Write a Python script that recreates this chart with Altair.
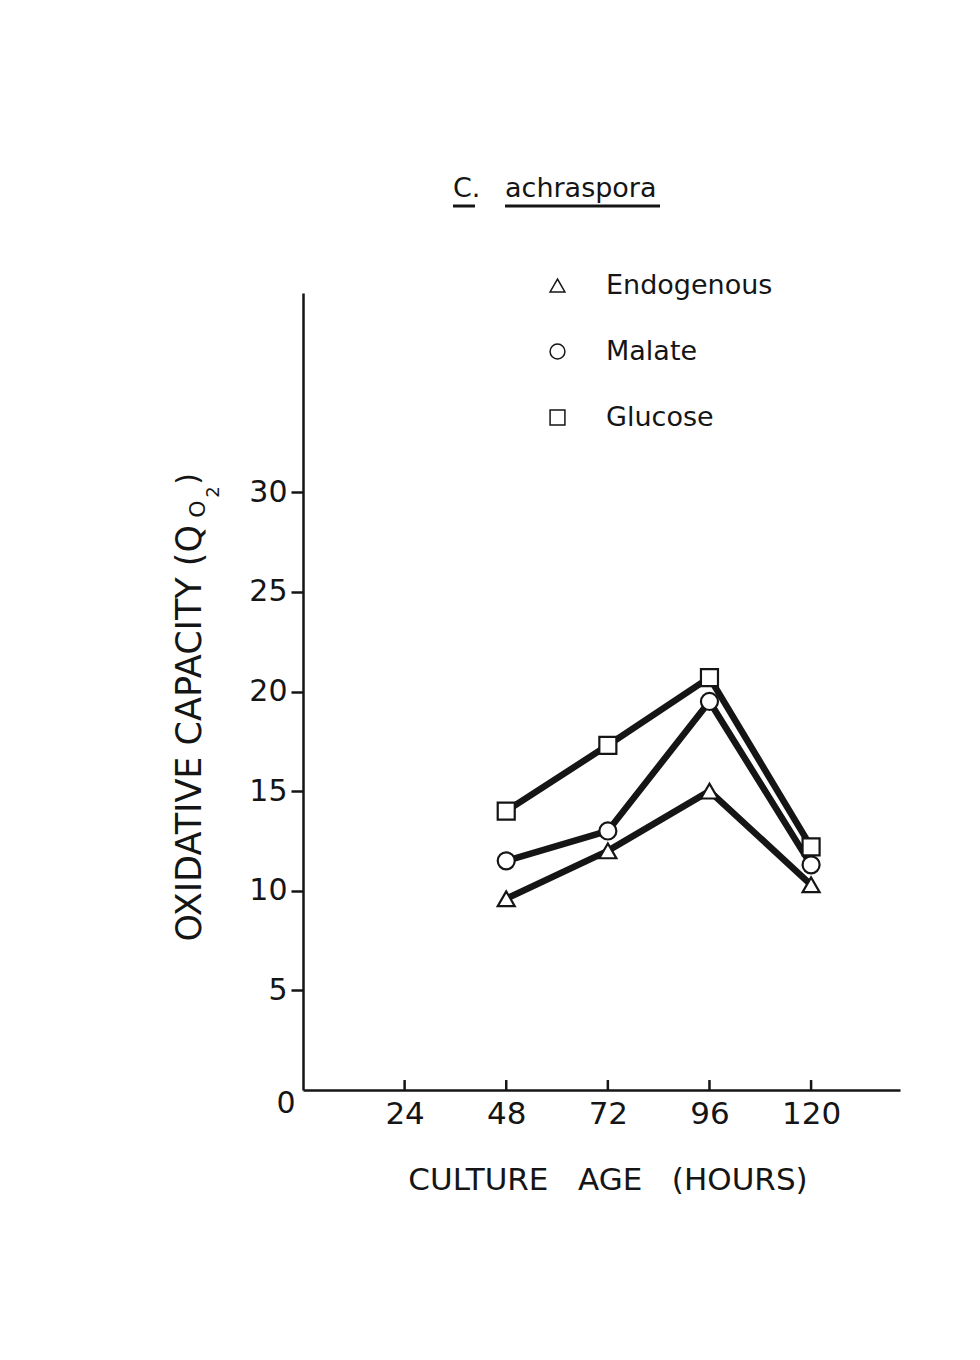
import altair as alt
import pandas as pd

# Oxidative capacity (QO2) of C. achraspora cultures by age
hours = [48, 72, 96, 120]
endogenous = [9.6, 12.0, 15.0, 10.3]
malate = [11.5, 13.0, 19.5, 11.3]
glucose = [14.0, 17.3, 20.7, 12.2]

series_names = ["Endogenous", "Malate", "Glucose"]
series_shapes = ["triangle-up", "circle", "square"]
x_ticks = [24, 48, 72, 96, 120]
y_ticks = [5, 10, 15, 20, 25, 30]

rows = []
for name, vals in zip(series_names, [endogenous, malate, glucose]):
    for h, v in zip(hours, vals):
        rows.append({"hours": h, "qo2": v, "series": name})
df = pd.DataFrame(rows)
ticks_df = pd.DataFrame({"hours": x_ticks})

FONT = "DejaVu Sans"
INK = "#151515"
W, H = 597, 797
NB = "\u00a0"

x_scale = alt.Scale(domain=[0, 141], nice=False, zero=False)
y_scale = alt.Scale(domain=[0, 40], nice=False)
shape_scale = alt.Scale(domain=series_names, range=series_shapes)

x_enc = alt.X(
    "hours:Q",
    scale=x_scale,
    axis=alt.Axis(
        values=x_ticks, tickSize=0, labelFontSize=31, labelPadding=9,
        labelFont=FONT, labelColor=INK, domainColor=INK, domainWidth=2.5,
        grid=False, title=None, labelFlush=False,
    ),
)
y_enc = alt.Y(
    "qo2:Q",
    scale=y_scale,
    axis=alt.Axis(
        values=y_ticks, tickSize=12, tickWidth=2.5, tickColor=INK,
        labelFontSize=30, labelPadding=4, labelFont=FONT, labelColor=INK,
        domainColor=INK, domainWidth=2.5, grid=False, title=None,
        labelFlush=False,
    ),
)

lines = alt.Chart(df).mark_line(color=INK, strokeWidth=6.5).encode(
    x=x_enc, y=y_enc, detail="series:N"
)

points = alt.Chart(df).mark_point(
    filled=True, fill="white", stroke=INK, strokeWidth=2.2, size=290,
    opacity=1,
).encode(
    x="hours:Q",
    y="qo2:Q",
    shape=alt.Shape(
        "series:N",
        scale=shape_scale,
        legend=alt.Legend(
            title=None, orient="none", legendX=241, legendY=-21,
            symbolSize=220, labelLimit=0,
            labelFont=FONT, labelFontSize=27, labelColor=INK,
            labelOffset=35, rowPadding=38,
        ),
    ),
)

# x-axis ticks drawn pointing up into the plot
xticks = alt.Chart(ticks_df).mark_rule(color=INK, strokeWidth=2.5).encode(
    x="hours:Q", y=alt.datum(0), y2=alt.datum(0.5)
)

zero_label = alt.Chart().mark_text(
    font=FONT, fontSize=30, color=INK, align="center", baseline="middle",
    dx=-17, dy=14,
).encode(x=alt.datum(0), y=alt.datum(0), text=alt.value("0"))

def label(text, x, y, size, align="left", baseline="alphabetic", angle=0):
    return alt.Chart().mark_text(
        font=FONT, fontSize=size, color=INK, align=align,
        baseline=baseline, angle=angle,
    ).encode(x=alt.value(x), y=alt.value(y), text=alt.value(text))

def underline(x1, x2, y):
    return alt.Chart().mark_rule(color=INK, strokeWidth=3).encode(
        x=alt.value(x1), x2=alt.value(x2), y=alt.value(y)
    )

title_c = label("C.", 150, -96, 27)
title_sp = label("achraspora", 202, -96, 27)
ul_c = underline(150, 172, -87)
ul_sp = underline(202, 357, -87)

gap = NB * 3
x_title = label(f"CULTURE{gap}AGE{gap}(HOURS)", 305, 888, 31,
                align="center", baseline="middle")

y_title = label("OXIDATIVE CAPACITY (Q", -113, 232, 35,
                align="right", baseline="middle", angle=270)
y_sub_o = label("O", -105, 216, 22, align="center", baseline="middle", angle=270)
y_sub_2 = label("2", -89, 199, 18, align="center", baseline="middle", angle=270)
y_paren = label(")", -114, 186, 30, align="center", baseline="middle", angle=270)

chart = alt.layer(
    lines, xticks, points, zero_label,
    title_c, title_sp, ul_c, ul_sp,
    x_title, y_title, y_sub_o, y_sub_2, y_paren,
).properties(
    width=W, height=H,
    autosize=alt.AutoSizeParams(type="none"),
    padding={"left": 303, "top": 293, "right": 80, "bottom": 270},
    background="white",
).configure_view(stroke=None)

chart.save("out.html", embed_options={"renderer": "svg", "actions": False})
